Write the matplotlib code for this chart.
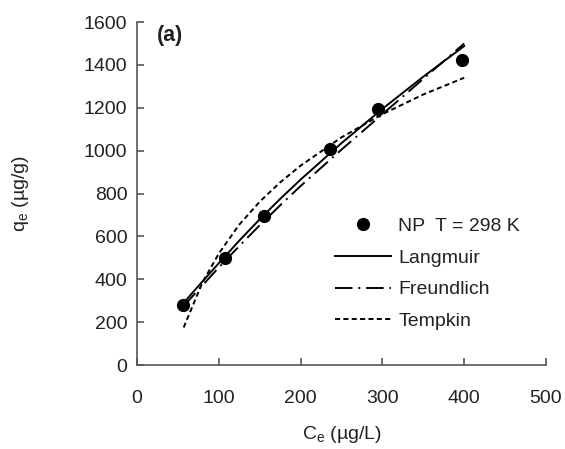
import matplotlib
matplotlib.use('Agg')
import matplotlib.pyplot as plt

plt.rcParams['font.family'] = ['Liberation Sans', 'DejaVu Sans']

# measured points
ce_data = [56, 108, 155, 236, 294, 397]
qe_data = [280, 497, 696, 1007, 1195, 1424]

# fitted curves
ce_fit = [57, 80, 100, 125, 150, 175, 200, 250, 300, 350, 400]
q_langmuir = [290, 390, 475, 580, 680, 775, 865, 1035, 1195, 1345, 1488]
q_freundlich = [275, 372, 455, 555, 652, 745, 835, 1005, 1170, 1335, 1500]
q_tempkin = [175, 385, 520, 655, 762, 852, 930, 1062, 1170, 1262, 1340]

xticks = [0, 100, 200, 300, 400, 500]
yticks = [0, 200, 400, 600, 800, 1000, 1200, 1400, 1600]

text_col = '#222222'
axis_col = '#555555'

fig = plt.figure(figsize=(5.65, 4.49), dpi=100)
ax = fig.add_axes([0.2425, 0.187, 0.7239, 0.764])

ax.plot(ce_data, qe_data, 'o', color='black', markersize=8.5, label='NP  T = 298 K', zorder=5)
ax.plot(ce_fit, q_langmuir, '-', color='black', linewidth=1.4, label='Langmuir')
ax.plot(ce_fit, q_freundlich, color='black', linewidth=1.4, linestyle=(0, (9, 3, 1, 3)), label='Freundlich')
ax.plot(ce_fit, q_tempkin, color='black', linewidth=1.4, linestyle=(0, (2.6, 1.7)), label='Tempkin')

ax.set_xlim(0, 500)
ax.set_ylim(0, 1600)
ax.set_xticks(xticks)
ax.set_yticks(yticks)

for s in ['top', 'right']:
    ax.spines[s].set_visible(False)
for s in ['left', 'bottom']:
    ax.spines[s].set_color(axis_col)
    ax.spines[s].set_linewidth(1.2)

ax.tick_params(axis='x', direction='in', length=5, width=1.2, color=axis_col,
               labelsize=14, labelcolor=text_col, pad=18)
ax.tick_params(axis='y', direction='in', length=5, width=1.2, color=axis_col,
               labelsize=14, labelcolor=text_col, pad=7)

ax.set_xlabel('C$_\\mathregular{e}$ (µg/L)', fontsize=14, color=text_col, labelpad=12)
ax.set_ylabel('q$_\\mathregular{e}$ (µg/g)', fontsize=14, color=text_col, labelpad=38)

ax.text(24, 1535, '(a)', fontsize=15.5, fontweight='bold', color=text_col, va='center', ha='left')

leg = ax.legend(loc='upper left', bbox_to_anchor=(0.484, 0.43), frameon=False,
                fontsize=14, handlelength=2.9, handletextpad=0.35, labelspacing=0.72,
                borderpad=0, borderaxespad=0, numpoints=1)
for t in leg.get_texts():
    t.set_color(text_col)

fig.savefig('out.png', dpi=100)
